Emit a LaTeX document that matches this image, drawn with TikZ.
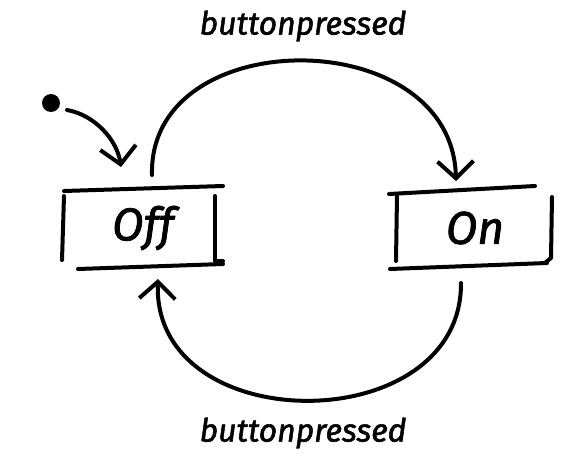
\documentclass[tikz,border=0pt]{standalone}
\usepackage{fontspec}
\setmainfont{Fira Sans}
\newfontfamily\handfont{Fira Sans}[FakeBold=1.6]
\usetikzlibrary{arrows.meta}
\tikzset{
  sketch/.style={line width=4pt, line cap=round, line join=round, black},
  trans/.style={sketch, -{Straight Barb[length=17pt,width=36pt,line width=4pt]}},
  statetext/.style={font=\handfont\fontsize{46}{48}\selectfont\itshape, inner sep=0pt},
  evtext/.style={font=\handfont\fontsize{32}{34}\selectfont\itshape, inner sep=0pt}
}
\begin{document}
\begin{tikzpicture}[x=1pt,y=-1pt]
\useasboundingbox (0,0) rectangle (576,463);
% states
\node[statetext] (off) at (143,228) {Off};
\node[statetext] (on) at (475,228) {On};
% Off box
\draw[sketch] (64,191) -- (223,186);
\draw[sketch] (78,269) -- (223,264);
\draw[sketch] (64,196) -- (62,260);
\draw[sketch] (215,196) -- (215,261) -- (223,261);
% On box
\draw[sketch] (389,194) -- (535,186);
\draw[sketch] (390,269) -- (547,263);
\draw[sketch] (397,196) -- (396,261);
\draw[sketch] (552,197) -- (551,258) -- (546,262);
% initial
\fill (51,103) circle (9);
\coordinate (i0) at (67,110);
\coordinate (i1) at (121,167);
\draw[trans] (i0) .. controls (95,115) and (117,140) .. (i1);
% transitions
\coordinate (offtop) at (152,175);
\coordinate (ontop) at (456,181);
\coordinate (onbot) at (461,283);
\coordinate (offbot) at (158,279);
\draw[trans] (offtop) .. controls (148,22) and (452,22) .. (ontop);
\draw[trans] (onbot) .. controls (462,440) and (152,440) .. (offbot);
% labels
\node[evtext] (lt) at (303,26) {buttonpressed};
\node[evtext] (lb) at (303,433) {buttonpressed};
\end{tikzpicture}
\end{document}
